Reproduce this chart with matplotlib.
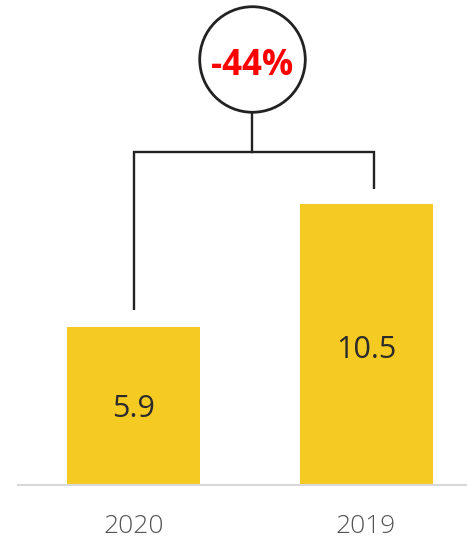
import matplotlib.pyplot as plt

years = ["2020", "2019"]
values = [5.9, 10.5]
change_label = "-44%"

BAR_COLOR = "#F5CA22"
LINE_COLOR = "#222222"
TEXT_DARK = "#2b2b2b"
TEXT_GRAY = "#555555"

fig = plt.figure(figsize=(4.67, 5.40), dpi=100)
ax = fig.add_axes([18 / 467, 55 / 540, 1 - 18 / 467, 1 - 55 / 540])

x = list(range(len(years)))
ax.bar(x, values, width=0.572, color=BAR_COLOR, zorder=2)

ax.set_xlim(-0.497, 1.434)
ax.set_ylim(0, 18.12)

for xi, v in zip(x, values):
    ax.text(xi, v * 0.48, f"{v}", ha="center", va="center",
            fontsize=22, color=TEXT_DARK, family="Open Sans", fontweight="medium")

# bracket connecting the two bars
top = 12.44
left_end = values[0] + 0.64
right_end = values[1] + 0.56
xl, xr, xc = 0.0, 1.034, 0.51
ax.plot([xl, xl, xr, xr], [left_end, top, top, right_end],
        color=LINE_COLOR, lw=1.7, solid_capstyle="butt", solid_joinstyle="miter", zorder=3)
circle_y = 15.92
ax.plot([xc, xc], [top, 14.0], color=LINE_COLOR, lw=1.7, zorder=3)
ax.plot([xc], [circle_y], marker="o", markersize=76, mfc="white",
        mec=LINE_COLOR, mew=2.0, zorder=4)
ax.text(xc, circle_y - 0.25, change_label, ha="center", va="center", fontsize=25,
        fontweight="bold", color="#FF0000", family="Open Sans", zorder=5)

ax.set_xticks(x)
ax.set_xticklabels(years, fontsize=19, color=TEXT_GRAY, family="Open Sans", fontweight="light")
ax.tick_params(axis="x", length=0, pad=21)
ax.set_yticks([])
for s in ["top", "left", "right"]:
    ax.spines[s].set_visible(False)
ax.spines["bottom"].set_color("#d8d8d8")
ax.spines["bottom"].set_linewidth(1.5)

fig.savefig("out.png", dpi=100)
